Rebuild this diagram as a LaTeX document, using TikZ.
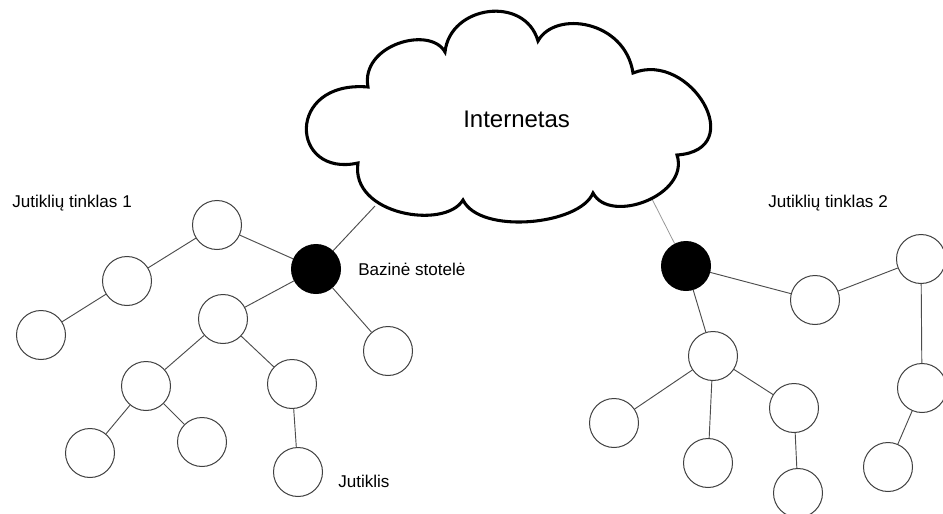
\documentclass[tikz,border=0pt]{standalone}
\usepackage{fontspec}
\setmainfont{Liberation Sans}
\begin{document}
\begin{tikzpicture}[x=0.75pt,y=-0.75pt,
  sensor/.style={circle,draw=black!75,line width=0.75pt,fill=white,minimum size=36.75pt,inner sep=0pt},
  basestation/.style={sensor,draw=black,fill=black},
  link/.style={draw=black!70,line width=0.7pt},
  uplink/.style={draw=black!40,line width=0.6pt},
  lbl/.style={inner sep=0pt,anchor=base west,font=\fontsize{12.8pt}{14pt}\selectfont},
  cloudline/.style={line width=2.3pt,draw=black,fill=white,line join=miter}]
\useasboundingbox (0,0) rectangle (943,514);

% cloud attachment points
\coordinate (cl) at (375,206);
\coordinate (cr) at (652,199);

% sensor network 1
\node[basestation] (bs1) at (316,269) {};
\node[sensor] (a) at (217,225) {};
\node[sensor] (b) at (127,281) {};
\node[sensor] (c) at (41,335) {};
\node[sensor] (d) at (223,319) {};
\node[sensor] (e) at (388,351) {};
\node[sensor] (f) at (146,386) {};
\node[sensor] (g) at (292,384) {};
\node[sensor] (h) at (90,453) {};
\node[sensor] (i) at (202,442) {};
\node[sensor] (j) at (298,472) {};

% sensor network 2
\node[basestation] (bs2) at (686,266) {};
\node[sensor] (k) at (815,300) {};
\node[sensor] (l) at (921,259) {};
\node[sensor] (m) at (713,356) {};
\node[sensor] (n) at (614,423) {};
\node[sensor] (o) at (708,463) {};
\node[sensor] (p) at (794,408) {};
\node[sensor] (q) at (798,493) {};
\node[sensor] (r) at (922,388) {};
\node[sensor] (s) at (888,467) {};

% links
\path[link] (cl) -- (bs1);
\path[uplink] (cr) -- (bs2);
\path[link] (bs1) -- (a) (a) -- (b) (b) -- (c)
  (bs1) -- (d) (bs1) -- (e) (d) -- (f) (d) -- (g)
  (f) -- (h) (f) -- (i) (g) -- (j);
\path[link] (bs2) -- (k) (k) -- (l) (bs2) -- (m)
  (m) -- (n) (m) -- (o) (m) -- (p) (p) -- (q)
  (l) -- (r) (r) -- (s);

% cloud
\path[cloudline] (358,163)
  .. controls (290,178) and (285,80) .. (368,87)
  .. controls (360,45) and (430,25) .. (445,52)
  .. controls (450,5) and (525,-5) .. (538,41)
  .. controls (555,10) and (625,20) .. (633,73)
  .. controls (690,50) and (750,150) .. (677,155)
  .. controls (690,195) and (610,225) .. (593,193)
  .. controls (580,225) and (480,235) .. (463,200)
  .. controls (445,230) and (350,215) .. (358,163) -- cycle;

% labels
\node[lbl,font=\fontsize{18pt}{20pt}\selectfont] (inet) at (463,127) {Internetas};
\node[lbl] (net1) at (12,207) {Jutiklių tinklas 1};
\node[lbl] (net2) at (768,207) {Jutiklių tinklas 2};
\node[lbl] (bslbl) at (358,275) {Bazinė stotelė};
\node[lbl] (snlbl) at (338,487) {Jutiklis};
\end{tikzpicture}
\end{document}
